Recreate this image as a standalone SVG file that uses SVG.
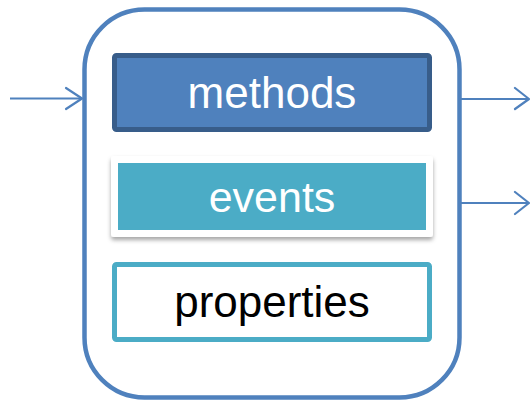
<svg xmlns="http://www.w3.org/2000/svg" width="530" height="401" viewBox="0 0 530 401">
<defs>
<style>
.lbl{font-family:"Liberation Sans",Arial,sans-serif;font-size:44px;text-anchor:middle}
.conn{stroke:#4f81bd;stroke-width:2;fill:none}
.head{stroke:#4f81bd;stroke-width:2.2;fill:none;stroke-linecap:round;stroke-linejoin:round}
</style>
<filter id="sh" x="-10%" y="-20%" width="120%" height="150%">
<feDropShadow dx="0" dy="3" stdDeviation="2.2" flood-color="#000" flood-opacity="0.35"/>
</filter>
</defs>
<g id="component">
<rect x="84.5" y="9.5" width="375" height="388" rx="60" ry="60" fill="#fff" stroke="#4f81bd" stroke-width="4.5"/>
</g>
<g id="methods">
<rect x="114.5" y="55.5" width="315" height="74" rx="2" fill="#4f81bd" stroke="#385d8a" stroke-width="5"/>
<text class="lbl" x="272" y="108" fill="#fff">methods</text>
</g>
<g id="events">
<rect x="111" y="156" width="322" height="81" rx="3" fill="#fff" filter="url(#sh)"/>
<rect x="118" y="163" width="308" height="67" fill="#4bacc6"/>
<text class="lbl" x="272" y="212" fill="#fff" style="font-size:43px">events</text>
</g>
<g id="properties">
<rect x="114.5" y="264.5" width="315" height="75" rx="2" fill="#fff" stroke="#4bacc6" stroke-width="5"/>
<text class="lbl" x="272" y="317" fill="#000">properties</text>
</g>
<g id="connectors">
<line class="conn" x1="10" y1="98.5" x2="81" y2="98.5"/>
<polyline class="head" points="66,88 82,98.5 66,109"/>
<line class="conn" x1="461" y1="99" x2="528" y2="99"/>
<polyline class="head" points="515,88 529,99 515,109"/>
<line class="conn" x1="461" y1="203" x2="528" y2="203"/>
<polyline class="head" points="515,192 529,203 515,214"/>
</g>
</svg>
